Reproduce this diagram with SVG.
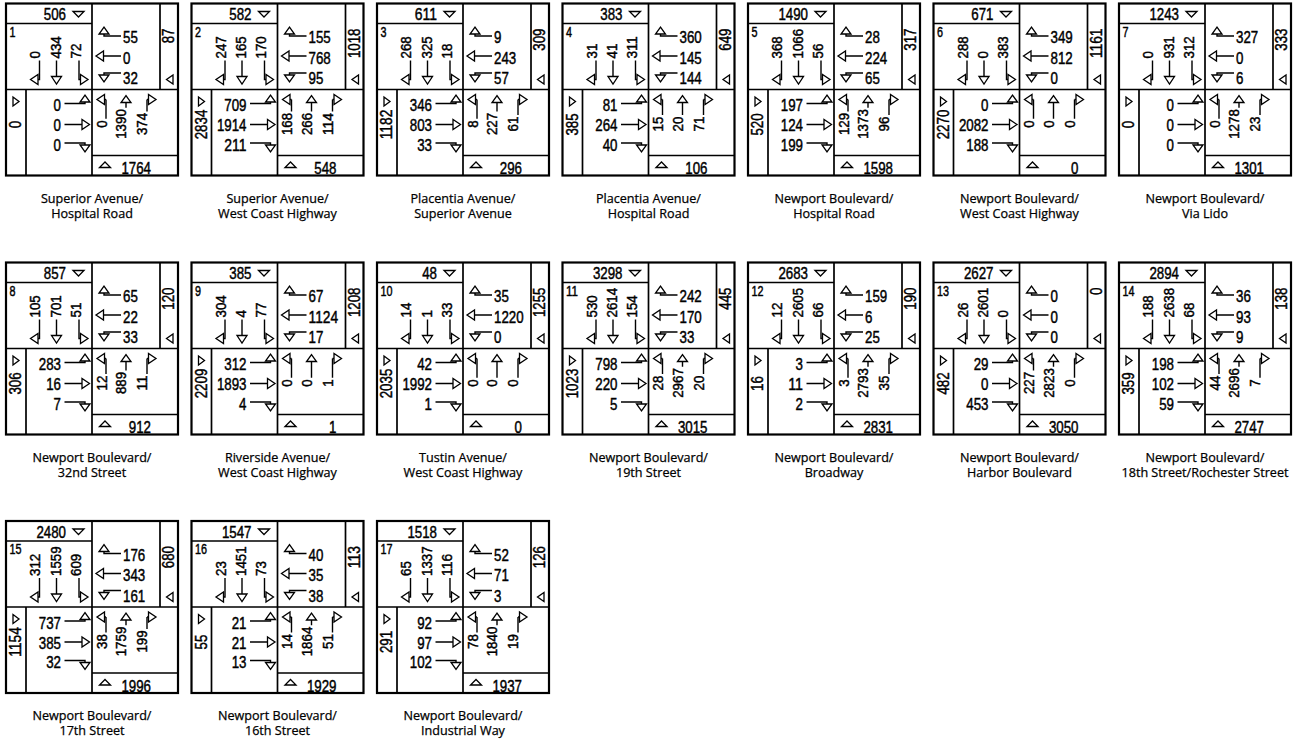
<svg xmlns="http://www.w3.org/2000/svg" width="1301" height="749" viewBox="0 0 1301 749">
<style>
.o{fill:none;stroke:#000;stroke-width:2.2}
.f{fill:none;stroke:#000;stroke-width:1.7}
.a{fill:none;stroke:#000;stroke-width:1.4}
.h polygon{fill:#fff;stroke:#000;stroke-width:1.3}
text{fill:#000;font-family:"Liberation Sans",Arial,Helvetica,sans-serif}
.n,.e,.r,.rm,.t,.tm,.id{stroke:#000;stroke-width:0.45}
.n,.e{font-size:16.5px}
.e{text-anchor:end}
.id{font-size:14px}
.r,.rm{font-size:14.5px}
.rm{text-anchor:middle}
.t,.tm{font-size:16px}
.t{text-anchor:end}
.tm{text-anchor:middle}
.lb{font-family:"Open Sans","Noto Sans",sans-serif;font-size:12.6px;text-anchor:middle;stroke:#000;stroke-width:0.25}
</style>
<defs>
<g id="fr">
<rect class="o" x="0" y="0" width="172" height="172"/>
<path class="f" d="M86 0V172M0 20H86M154 0V86M0 86H172M20 86V172M86 152H172"/>
<path class="a" d="M33.5 57V76H32M50.5 57V73M73 57V76H74.5M115 32.5H98V30.5M115 52.5H97.5M115 69.5H98V71.5M58.5 100H79V98.5M58.5 121H76M58.5 139.5H79V141.5M98.5 96H100M141 96H142.5"/>
<g class="h">
<polygon points="67,8 78,8 72.5,13.5"/>
<polygon points="167,71.5 167,80.5 160.5,76"/>
<polygon points="7,93.5 7,102.5 13,98"/>
<polygon points="93.5,164 104.5,164 99,158.5"/>
<polygon points="32,71 32,81 24.5,76"/>
<polygon points="45.5,73 55.5,73 50.5,80.5"/>
<polygon points="74.5,71 74.5,81 82,76"/>
<polygon points="93,30.5 103,30.5 98,23.5"/>
<polygon points="97.5,47.5 97.5,57.5 90,52.5"/>
<polygon points="93,71.5 103,71.5 98,78.5"/>
<polygon points="74,98.5 84,98.5 79,91.5"/>
<polygon points="76,116 76,126 83.5,121"/>
<polygon points="74,141.5 84,141.5 79,148.5"/>
<polygon points="98.5,91 98.5,101 91,96"/>
<polygon points="115,99 125,99 120,92"/>
<polygon points="142.5,91 142.5,101 150,96"/>
</g>
</g>
</defs>

<g id="int-1" transform="translate(6 3.5)">
<use href="#fr"/>
<path class="a" d="M100 96V115.3M120 99V104.2M141 96V107.9"/>
<text class="id" x="3.5" y="33" textLength="6" lengthAdjust="spacingAndGlyphs">1</text>
<text class="e" x="60" y="16.5" textLength="22.2" lengthAdjust="spacingAndGlyphs">506</text>
<text class="e" x="145" y="170.5" textLength="29.6" lengthAdjust="spacingAndGlyphs">1764</text>
<text class="t" transform="translate(168 25)rotate(-90)" textLength="14.8" lengthAdjust="spacingAndGlyphs">87</text>
<text class="tm" transform="translate(15 121)rotate(-90)" textLength="7.4" lengthAdjust="spacingAndGlyphs">0</text>
<text class="r" transform="translate(34 55)rotate(-90)" textLength="7.4" lengthAdjust="spacingAndGlyphs">0</text>
<text class="r" transform="translate(54.5 55)rotate(-90)" textLength="22.2" lengthAdjust="spacingAndGlyphs">434</text>
<text class="r" transform="translate(74.5 55)rotate(-90)" textLength="14.8" lengthAdjust="spacingAndGlyphs">72</text>
<text class="n" x="117" y="39.5" textLength="14.8" lengthAdjust="spacingAndGlyphs">55</text>
<text class="n" x="117" y="60" textLength="7.4" lengthAdjust="spacingAndGlyphs">0</text>
<text class="n" x="117" y="80.5" textLength="14.8" lengthAdjust="spacingAndGlyphs">32</text>
<text class="e" x="55" y="107.5" textLength="7.4" lengthAdjust="spacingAndGlyphs">0</text>
<text class="e" x="55" y="127.5" textLength="7.4" lengthAdjust="spacingAndGlyphs">0</text>
<text class="e" x="55" y="147" textLength="7.4" lengthAdjust="spacingAndGlyphs">0</text>
<text class="rm" transform="translate(100.5 120.5)rotate(-90)" textLength="7.4" lengthAdjust="spacingAndGlyphs">0</text>
<text class="rm" transform="translate(120 120.5)rotate(-90)" textLength="29.6" lengthAdjust="spacingAndGlyphs">1390</text>
<text class="rm" transform="translate(141 120.5)rotate(-90)" textLength="22.2" lengthAdjust="spacingAndGlyphs">374</text>
<text class="lb" x="86" y="199">Superior Avenue/</text>
<text class="lb" x="86" y="214">Hospital Road</text>
</g>

<g id="int-2" transform="translate(191.5 3.5)">
<use href="#fr"/>
<path class="a" d="M100 96V107.9M120 99V107.9M141 96V107.9"/>
<text class="id" x="3.5" y="33" textLength="6" lengthAdjust="spacingAndGlyphs">2</text>
<text class="e" x="60" y="16.5" textLength="22.2" lengthAdjust="spacingAndGlyphs">582</text>
<text class="e" x="145" y="170.5" textLength="22.2" lengthAdjust="spacingAndGlyphs">548</text>
<text class="t" transform="translate(168 25)rotate(-90)" textLength="29.6" lengthAdjust="spacingAndGlyphs">1018</text>
<text class="tm" transform="translate(15 121)rotate(-90)" textLength="29.6" lengthAdjust="spacingAndGlyphs">2834</text>
<text class="r" transform="translate(34 55)rotate(-90)" textLength="22.2" lengthAdjust="spacingAndGlyphs">247</text>
<text class="r" transform="translate(54.5 55)rotate(-90)" textLength="22.2" lengthAdjust="spacingAndGlyphs">165</text>
<text class="r" transform="translate(74.5 55)rotate(-90)" textLength="22.2" lengthAdjust="spacingAndGlyphs">170</text>
<text class="n" x="117" y="39.5" textLength="22.2" lengthAdjust="spacingAndGlyphs">155</text>
<text class="n" x="117" y="60" textLength="22.2" lengthAdjust="spacingAndGlyphs">768</text>
<text class="n" x="117" y="80.5" textLength="14.8" lengthAdjust="spacingAndGlyphs">95</text>
<text class="e" x="55" y="107.5" textLength="22.2" lengthAdjust="spacingAndGlyphs">709</text>
<text class="e" x="55" y="127.5" textLength="29.6" lengthAdjust="spacingAndGlyphs">1914</text>
<text class="e" x="55" y="147" textLength="22.2" lengthAdjust="spacingAndGlyphs">211</text>
<text class="rm" transform="translate(100.5 120.5)rotate(-90)" textLength="22.2" lengthAdjust="spacingAndGlyphs">168</text>
<text class="rm" transform="translate(120 120.5)rotate(-90)" textLength="22.2" lengthAdjust="spacingAndGlyphs">266</text>
<text class="rm" transform="translate(141 120.5)rotate(-90)" textLength="22.2" lengthAdjust="spacingAndGlyphs">114</text>
<text class="lb" x="86" y="199">Superior Avenue/</text>
<text class="lb" x="86" y="214">West Coast Highway</text>
</g>

<g id="int-3" transform="translate(377 3.5)">
<use href="#fr"/>
<path class="a" d="M100 96V115.3M120 99V107.9M141 96V111.6"/>
<text class="id" x="3.5" y="33" textLength="6" lengthAdjust="spacingAndGlyphs">3</text>
<text class="e" x="60" y="16.5" textLength="22.2" lengthAdjust="spacingAndGlyphs">611</text>
<text class="e" x="145" y="170.5" textLength="22.2" lengthAdjust="spacingAndGlyphs">296</text>
<text class="t" transform="translate(168 25)rotate(-90)" textLength="22.2" lengthAdjust="spacingAndGlyphs">309</text>
<text class="tm" transform="translate(15 121)rotate(-90)" textLength="29.6" lengthAdjust="spacingAndGlyphs">1182</text>
<text class="r" transform="translate(34 55)rotate(-90)" textLength="22.2" lengthAdjust="spacingAndGlyphs">268</text>
<text class="r" transform="translate(54.5 55)rotate(-90)" textLength="22.2" lengthAdjust="spacingAndGlyphs">325</text>
<text class="r" transform="translate(74.5 55)rotate(-90)" textLength="14.8" lengthAdjust="spacingAndGlyphs">18</text>
<text class="n" x="117" y="39.5" textLength="7.4" lengthAdjust="spacingAndGlyphs">9</text>
<text class="n" x="117" y="60" textLength="22.2" lengthAdjust="spacingAndGlyphs">243</text>
<text class="n" x="117" y="80.5" textLength="14.8" lengthAdjust="spacingAndGlyphs">57</text>
<text class="e" x="55" y="107.5" textLength="22.2" lengthAdjust="spacingAndGlyphs">346</text>
<text class="e" x="55" y="127.5" textLength="22.2" lengthAdjust="spacingAndGlyphs">803</text>
<text class="e" x="55" y="147" textLength="14.8" lengthAdjust="spacingAndGlyphs">33</text>
<text class="rm" transform="translate(100.5 120.5)rotate(-90)" textLength="7.4" lengthAdjust="spacingAndGlyphs">8</text>
<text class="rm" transform="translate(120 120.5)rotate(-90)" textLength="22.2" lengthAdjust="spacingAndGlyphs">227</text>
<text class="rm" transform="translate(141 120.5)rotate(-90)" textLength="14.8" lengthAdjust="spacingAndGlyphs">61</text>
<text class="lb" x="86" y="199">Placentia Avenue/</text>
<text class="lb" x="86" y="214">Superior Avenue</text>
</g>

<g id="int-4" transform="translate(562.5 3.5)">
<use href="#fr"/>
<path class="a" d="M100 96V111.6M120 99V111.6M141 96V111.6"/>
<text class="id" x="3.5" y="33" textLength="6" lengthAdjust="spacingAndGlyphs">4</text>
<text class="e" x="60" y="16.5" textLength="22.2" lengthAdjust="spacingAndGlyphs">383</text>
<text class="e" x="145" y="170.5" textLength="22.2" lengthAdjust="spacingAndGlyphs">106</text>
<text class="t" transform="translate(168 25)rotate(-90)" textLength="22.2" lengthAdjust="spacingAndGlyphs">649</text>
<text class="tm" transform="translate(15 121)rotate(-90)" textLength="22.2" lengthAdjust="spacingAndGlyphs">385</text>
<text class="r" transform="translate(34 55)rotate(-90)" textLength="14.8" lengthAdjust="spacingAndGlyphs">31</text>
<text class="r" transform="translate(54.5 55)rotate(-90)" textLength="14.8" lengthAdjust="spacingAndGlyphs">41</text>
<text class="r" transform="translate(74.5 55)rotate(-90)" textLength="22.2" lengthAdjust="spacingAndGlyphs">311</text>
<text class="n" x="117" y="39.5" textLength="22.2" lengthAdjust="spacingAndGlyphs">360</text>
<text class="n" x="117" y="60" textLength="22.2" lengthAdjust="spacingAndGlyphs">145</text>
<text class="n" x="117" y="80.5" textLength="22.2" lengthAdjust="spacingAndGlyphs">144</text>
<text class="e" x="55" y="107.5" textLength="14.8" lengthAdjust="spacingAndGlyphs">81</text>
<text class="e" x="55" y="127.5" textLength="22.2" lengthAdjust="spacingAndGlyphs">264</text>
<text class="e" x="55" y="147" textLength="14.8" lengthAdjust="spacingAndGlyphs">40</text>
<text class="rm" transform="translate(100.5 120.5)rotate(-90)" textLength="14.8" lengthAdjust="spacingAndGlyphs">15</text>
<text class="rm" transform="translate(120 120.5)rotate(-90)" textLength="14.8" lengthAdjust="spacingAndGlyphs">20</text>
<text class="rm" transform="translate(141 120.5)rotate(-90)" textLength="14.8" lengthAdjust="spacingAndGlyphs">71</text>
<text class="lb" x="86" y="199">Placentia Avenue/</text>
<text class="lb" x="86" y="214">Hospital Road</text>
</g>

<g id="int-5" transform="translate(748 3.5)">
<use href="#fr"/>
<path class="a" d="M100 96V107.9M120 99V104.2M141 96V111.6"/>
<text class="id" x="3.5" y="33" textLength="6" lengthAdjust="spacingAndGlyphs">5</text>
<text class="e" x="60" y="16.5" textLength="29.6" lengthAdjust="spacingAndGlyphs">1490</text>
<text class="e" x="145" y="170.5" textLength="29.6" lengthAdjust="spacingAndGlyphs">1598</text>
<text class="t" transform="translate(168 25)rotate(-90)" textLength="22.2" lengthAdjust="spacingAndGlyphs">317</text>
<text class="tm" transform="translate(15 121)rotate(-90)" textLength="22.2" lengthAdjust="spacingAndGlyphs">520</text>
<text class="r" transform="translate(34 55)rotate(-90)" textLength="22.2" lengthAdjust="spacingAndGlyphs">368</text>
<text class="r" transform="translate(54.5 55)rotate(-90)" textLength="29.6" lengthAdjust="spacingAndGlyphs">1066</text>
<text class="r" transform="translate(74.5 55)rotate(-90)" textLength="14.8" lengthAdjust="spacingAndGlyphs">56</text>
<text class="n" x="117" y="39.5" textLength="14.8" lengthAdjust="spacingAndGlyphs">28</text>
<text class="n" x="117" y="60" textLength="22.2" lengthAdjust="spacingAndGlyphs">224</text>
<text class="n" x="117" y="80.5" textLength="14.8" lengthAdjust="spacingAndGlyphs">65</text>
<text class="e" x="55" y="107.5" textLength="22.2" lengthAdjust="spacingAndGlyphs">197</text>
<text class="e" x="55" y="127.5" textLength="22.2" lengthAdjust="spacingAndGlyphs">124</text>
<text class="e" x="55" y="147" textLength="22.2" lengthAdjust="spacingAndGlyphs">199</text>
<text class="rm" transform="translate(100.5 120.5)rotate(-90)" textLength="22.2" lengthAdjust="spacingAndGlyphs">129</text>
<text class="rm" transform="translate(120 120.5)rotate(-90)" textLength="29.6" lengthAdjust="spacingAndGlyphs">1373</text>
<text class="rm" transform="translate(141 120.5)rotate(-90)" textLength="14.8" lengthAdjust="spacingAndGlyphs">96</text>
<text class="lb" x="86" y="199">Newport Boulevard/</text>
<text class="lb" x="86" y="214">Hospital Road</text>
</g>

<g id="int-6" transform="translate(933.5 3.5)">
<use href="#fr"/>
<path class="a" d="M100 96V115.3M120 99V115.3M141 96V115.3"/>
<text class="id" x="3.5" y="33" textLength="6" lengthAdjust="spacingAndGlyphs">6</text>
<text class="e" x="60" y="16.5" textLength="22.2" lengthAdjust="spacingAndGlyphs">671</text>
<text class="e" x="145" y="170.5" textLength="7.4" lengthAdjust="spacingAndGlyphs">0</text>
<text class="t" transform="translate(168 25)rotate(-90)" textLength="29.6" lengthAdjust="spacingAndGlyphs">1161</text>
<text class="tm" transform="translate(15 121)rotate(-90)" textLength="29.6" lengthAdjust="spacingAndGlyphs">2270</text>
<text class="r" transform="translate(34 55)rotate(-90)" textLength="22.2" lengthAdjust="spacingAndGlyphs">288</text>
<text class="r" transform="translate(54.5 55)rotate(-90)" textLength="7.4" lengthAdjust="spacingAndGlyphs">0</text>
<text class="r" transform="translate(74.5 55)rotate(-90)" textLength="22.2" lengthAdjust="spacingAndGlyphs">383</text>
<text class="n" x="117" y="39.5" textLength="22.2" lengthAdjust="spacingAndGlyphs">349</text>
<text class="n" x="117" y="60" textLength="22.2" lengthAdjust="spacingAndGlyphs">812</text>
<text class="n" x="117" y="80.5" textLength="7.4" lengthAdjust="spacingAndGlyphs">0</text>
<text class="e" x="55" y="107.5" textLength="7.4" lengthAdjust="spacingAndGlyphs">0</text>
<text class="e" x="55" y="127.5" textLength="29.6" lengthAdjust="spacingAndGlyphs">2082</text>
<text class="e" x="55" y="147" textLength="22.2" lengthAdjust="spacingAndGlyphs">188</text>
<text class="rm" transform="translate(100.5 120.5)rotate(-90)" textLength="7.4" lengthAdjust="spacingAndGlyphs">0</text>
<text class="rm" transform="translate(120 120.5)rotate(-90)" textLength="7.4" lengthAdjust="spacingAndGlyphs">0</text>
<text class="rm" transform="translate(141 120.5)rotate(-90)" textLength="7.4" lengthAdjust="spacingAndGlyphs">0</text>
<text class="lb" x="86" y="199">Newport Boulevard/</text>
<text class="lb" x="86" y="214">West Coast Highway</text>
</g>

<g id="int-7" transform="translate(1119 3.5)">
<use href="#fr"/>
<path class="a" d="M100 96V115.3M120 99V104.2M141 96V111.6"/>
<text class="id" x="3.5" y="33" textLength="6" lengthAdjust="spacingAndGlyphs">7</text>
<text class="e" x="60" y="16.5" textLength="29.6" lengthAdjust="spacingAndGlyphs">1243</text>
<text class="e" x="145" y="170.5" textLength="29.6" lengthAdjust="spacingAndGlyphs">1301</text>
<text class="t" transform="translate(168 25)rotate(-90)" textLength="22.2" lengthAdjust="spacingAndGlyphs">333</text>
<text class="tm" transform="translate(15 121)rotate(-90)" textLength="7.4" lengthAdjust="spacingAndGlyphs">0</text>
<text class="r" transform="translate(34 55)rotate(-90)" textLength="7.4" lengthAdjust="spacingAndGlyphs">0</text>
<text class="r" transform="translate(54.5 55)rotate(-90)" textLength="22.2" lengthAdjust="spacingAndGlyphs">931</text>
<text class="r" transform="translate(74.5 55)rotate(-90)" textLength="22.2" lengthAdjust="spacingAndGlyphs">312</text>
<text class="n" x="117" y="39.5" textLength="22.2" lengthAdjust="spacingAndGlyphs">327</text>
<text class="n" x="117" y="60" textLength="7.4" lengthAdjust="spacingAndGlyphs">0</text>
<text class="n" x="117" y="80.5" textLength="7.4" lengthAdjust="spacingAndGlyphs">6</text>
<text class="e" x="55" y="107.5" textLength="7.4" lengthAdjust="spacingAndGlyphs">0</text>
<text class="e" x="55" y="127.5" textLength="7.4" lengthAdjust="spacingAndGlyphs">0</text>
<text class="e" x="55" y="147" textLength="7.4" lengthAdjust="spacingAndGlyphs">0</text>
<text class="rm" transform="translate(100.5 120.5)rotate(-90)" textLength="7.4" lengthAdjust="spacingAndGlyphs">0</text>
<text class="rm" transform="translate(120 120.5)rotate(-90)" textLength="29.6" lengthAdjust="spacingAndGlyphs">1278</text>
<text class="rm" transform="translate(141 120.5)rotate(-90)" textLength="14.8" lengthAdjust="spacingAndGlyphs">23</text>
<text class="lb" x="86" y="199">Newport Boulevard/</text>
<text class="lb" x="86" y="214">Via Lido</text>
</g>

<g id="int-8" transform="translate(6 262.5)">
<use href="#fr"/>
<path class="a" d="M100 96V111.6M120 99V107.9M141 96V111.6"/>
<text class="id" x="3.5" y="33" textLength="6" lengthAdjust="spacingAndGlyphs">8</text>
<text class="e" x="60" y="16.5" textLength="22.2" lengthAdjust="spacingAndGlyphs">857</text>
<text class="e" x="145" y="170.5" textLength="22.2" lengthAdjust="spacingAndGlyphs">912</text>
<text class="t" transform="translate(168 25)rotate(-90)" textLength="22.2" lengthAdjust="spacingAndGlyphs">120</text>
<text class="tm" transform="translate(15 121)rotate(-90)" textLength="22.2" lengthAdjust="spacingAndGlyphs">306</text>
<text class="r" transform="translate(34 55)rotate(-90)" textLength="22.2" lengthAdjust="spacingAndGlyphs">105</text>
<text class="r" transform="translate(54.5 55)rotate(-90)" textLength="22.2" lengthAdjust="spacingAndGlyphs">701</text>
<text class="r" transform="translate(74.5 55)rotate(-90)" textLength="14.8" lengthAdjust="spacingAndGlyphs">51</text>
<text class="n" x="117" y="39.5" textLength="14.8" lengthAdjust="spacingAndGlyphs">65</text>
<text class="n" x="117" y="60" textLength="14.8" lengthAdjust="spacingAndGlyphs">22</text>
<text class="n" x="117" y="80.5" textLength="14.8" lengthAdjust="spacingAndGlyphs">33</text>
<text class="e" x="55" y="107.5" textLength="22.2" lengthAdjust="spacingAndGlyphs">283</text>
<text class="e" x="55" y="127.5" textLength="14.8" lengthAdjust="spacingAndGlyphs">16</text>
<text class="e" x="55" y="147" textLength="7.4" lengthAdjust="spacingAndGlyphs">7</text>
<text class="rm" transform="translate(100.5 120.5)rotate(-90)" textLength="14.8" lengthAdjust="spacingAndGlyphs">12</text>
<text class="rm" transform="translate(120 120.5)rotate(-90)" textLength="22.2" lengthAdjust="spacingAndGlyphs">889</text>
<text class="rm" transform="translate(141 120.5)rotate(-90)" textLength="14.8" lengthAdjust="spacingAndGlyphs">11</text>
<text class="lb" x="86" y="199">Newport Boulevard/</text>
<text class="lb" x="86" y="214">32nd Street</text>
</g>

<g id="int-9" transform="translate(191.5 262.5)">
<use href="#fr"/>
<path class="a" d="M100 96V115.3M120 99V115.3M141 96V115.3"/>
<text class="id" x="3.5" y="33" textLength="6" lengthAdjust="spacingAndGlyphs">9</text>
<text class="e" x="60" y="16.5" textLength="22.2" lengthAdjust="spacingAndGlyphs">385</text>
<text class="e" x="145" y="170.5" textLength="7.4" lengthAdjust="spacingAndGlyphs">1</text>
<text class="t" transform="translate(168 25)rotate(-90)" textLength="29.6" lengthAdjust="spacingAndGlyphs">1208</text>
<text class="tm" transform="translate(15 121)rotate(-90)" textLength="29.6" lengthAdjust="spacingAndGlyphs">2209</text>
<text class="r" transform="translate(34 55)rotate(-90)" textLength="22.2" lengthAdjust="spacingAndGlyphs">304</text>
<text class="r" transform="translate(54.5 55)rotate(-90)" textLength="7.4" lengthAdjust="spacingAndGlyphs">4</text>
<text class="r" transform="translate(74.5 55)rotate(-90)" textLength="14.8" lengthAdjust="spacingAndGlyphs">77</text>
<text class="n" x="117" y="39.5" textLength="14.8" lengthAdjust="spacingAndGlyphs">67</text>
<text class="n" x="117" y="60" textLength="29.6" lengthAdjust="spacingAndGlyphs">1124</text>
<text class="n" x="117" y="80.5" textLength="14.8" lengthAdjust="spacingAndGlyphs">17</text>
<text class="e" x="55" y="107.5" textLength="22.2" lengthAdjust="spacingAndGlyphs">312</text>
<text class="e" x="55" y="127.5" textLength="29.6" lengthAdjust="spacingAndGlyphs">1893</text>
<text class="e" x="55" y="147" textLength="7.4" lengthAdjust="spacingAndGlyphs">4</text>
<text class="rm" transform="translate(100.5 120.5)rotate(-90)" textLength="7.4" lengthAdjust="spacingAndGlyphs">0</text>
<text class="rm" transform="translate(120 120.5)rotate(-90)" textLength="7.4" lengthAdjust="spacingAndGlyphs">0</text>
<text class="rm" transform="translate(141 120.5)rotate(-90)" textLength="7.4" lengthAdjust="spacingAndGlyphs">1</text>
<text class="lb" x="86" y="199">Riverside Avenue/</text>
<text class="lb" x="86" y="214">West Coast Highway</text>
</g>

<g id="int-10" transform="translate(377 262.5)">
<use href="#fr"/>
<path class="a" d="M100 96V115.3M120 99V115.3M141 96V115.3"/>
<text class="id" x="3.5" y="33" textLength="12" lengthAdjust="spacingAndGlyphs">10</text>
<text class="e" x="60" y="16.5" textLength="14.8" lengthAdjust="spacingAndGlyphs">48</text>
<text class="e" x="145" y="170.5" textLength="7.4" lengthAdjust="spacingAndGlyphs">0</text>
<text class="t" transform="translate(168 25)rotate(-90)" textLength="29.6" lengthAdjust="spacingAndGlyphs">1255</text>
<text class="tm" transform="translate(15 121)rotate(-90)" textLength="29.6" lengthAdjust="spacingAndGlyphs">2035</text>
<text class="r" transform="translate(34 55)rotate(-90)" textLength="14.8" lengthAdjust="spacingAndGlyphs">14</text>
<text class="r" transform="translate(54.5 55)rotate(-90)" textLength="7.4" lengthAdjust="spacingAndGlyphs">1</text>
<text class="r" transform="translate(74.5 55)rotate(-90)" textLength="14.8" lengthAdjust="spacingAndGlyphs">33</text>
<text class="n" x="117" y="39.5" textLength="14.8" lengthAdjust="spacingAndGlyphs">35</text>
<text class="n" x="117" y="60" textLength="29.6" lengthAdjust="spacingAndGlyphs">1220</text>
<text class="n" x="117" y="80.5" textLength="7.4" lengthAdjust="spacingAndGlyphs">0</text>
<text class="e" x="55" y="107.5" textLength="14.8" lengthAdjust="spacingAndGlyphs">42</text>
<text class="e" x="55" y="127.5" textLength="29.6" lengthAdjust="spacingAndGlyphs">1992</text>
<text class="e" x="55" y="147" textLength="7.4" lengthAdjust="spacingAndGlyphs">1</text>
<text class="rm" transform="translate(100.5 120.5)rotate(-90)" textLength="7.4" lengthAdjust="spacingAndGlyphs">0</text>
<text class="rm" transform="translate(120 120.5)rotate(-90)" textLength="7.4" lengthAdjust="spacingAndGlyphs">0</text>
<text class="rm" transform="translate(141 120.5)rotate(-90)" textLength="7.4" lengthAdjust="spacingAndGlyphs">0</text>
<text class="lb" x="86" y="199">Tustin Avenue/</text>
<text class="lb" x="86" y="214">West Coast Highway</text>
</g>

<g id="int-11" transform="translate(562.5 262.5)">
<use href="#fr"/>
<path class="a" d="M100 96V111.6M120 99V104.2M141 96V111.6"/>
<text class="id" x="3.5" y="33" textLength="12" lengthAdjust="spacingAndGlyphs">11</text>
<text class="e" x="60" y="16.5" textLength="29.6" lengthAdjust="spacingAndGlyphs">3298</text>
<text class="e" x="145" y="170.5" textLength="29.6" lengthAdjust="spacingAndGlyphs">3015</text>
<text class="t" transform="translate(168 25)rotate(-90)" textLength="22.2" lengthAdjust="spacingAndGlyphs">445</text>
<text class="tm" transform="translate(15 121)rotate(-90)" textLength="29.6" lengthAdjust="spacingAndGlyphs">1023</text>
<text class="r" transform="translate(34 55)rotate(-90)" textLength="22.2" lengthAdjust="spacingAndGlyphs">530</text>
<text class="r" transform="translate(54.5 55)rotate(-90)" textLength="29.6" lengthAdjust="spacingAndGlyphs">2614</text>
<text class="r" transform="translate(74.5 55)rotate(-90)" textLength="22.2" lengthAdjust="spacingAndGlyphs">154</text>
<text class="n" x="117" y="39.5" textLength="22.2" lengthAdjust="spacingAndGlyphs">242</text>
<text class="n" x="117" y="60" textLength="22.2" lengthAdjust="spacingAndGlyphs">170</text>
<text class="n" x="117" y="80.5" textLength="14.8" lengthAdjust="spacingAndGlyphs">33</text>
<text class="e" x="55" y="107.5" textLength="22.2" lengthAdjust="spacingAndGlyphs">798</text>
<text class="e" x="55" y="127.5" textLength="22.2" lengthAdjust="spacingAndGlyphs">220</text>
<text class="e" x="55" y="147" textLength="7.4" lengthAdjust="spacingAndGlyphs">5</text>
<text class="rm" transform="translate(100.5 120.5)rotate(-90)" textLength="14.8" lengthAdjust="spacingAndGlyphs">28</text>
<text class="rm" transform="translate(120 120.5)rotate(-90)" textLength="29.6" lengthAdjust="spacingAndGlyphs">2967</text>
<text class="rm" transform="translate(141 120.5)rotate(-90)" textLength="14.8" lengthAdjust="spacingAndGlyphs">20</text>
<text class="lb" x="86" y="199">Newport Boulevard/</text>
<text class="lb" x="86" y="214">19th Street</text>
</g>

<g id="int-12" transform="translate(748 262.5)">
<use href="#fr"/>
<path class="a" d="M100 96V115.3M120 99V104.2M141 96V111.6"/>
<text class="id" x="3.5" y="33" textLength="12" lengthAdjust="spacingAndGlyphs">12</text>
<text class="e" x="60" y="16.5" textLength="29.6" lengthAdjust="spacingAndGlyphs">2683</text>
<text class="e" x="145" y="170.5" textLength="29.6" lengthAdjust="spacingAndGlyphs">2831</text>
<text class="t" transform="translate(168 25)rotate(-90)" textLength="22.2" lengthAdjust="spacingAndGlyphs">190</text>
<text class="tm" transform="translate(15 121)rotate(-90)" textLength="14.8" lengthAdjust="spacingAndGlyphs">16</text>
<text class="r" transform="translate(34 55)rotate(-90)" textLength="14.8" lengthAdjust="spacingAndGlyphs">12</text>
<text class="r" transform="translate(54.5 55)rotate(-90)" textLength="29.6" lengthAdjust="spacingAndGlyphs">2605</text>
<text class="r" transform="translate(74.5 55)rotate(-90)" textLength="14.8" lengthAdjust="spacingAndGlyphs">66</text>
<text class="n" x="117" y="39.5" textLength="22.2" lengthAdjust="spacingAndGlyphs">159</text>
<text class="n" x="117" y="60" textLength="7.4" lengthAdjust="spacingAndGlyphs">6</text>
<text class="n" x="117" y="80.5" textLength="14.8" lengthAdjust="spacingAndGlyphs">25</text>
<text class="e" x="55" y="107.5" textLength="7.4" lengthAdjust="spacingAndGlyphs">3</text>
<text class="e" x="55" y="127.5" textLength="14.8" lengthAdjust="spacingAndGlyphs">11</text>
<text class="e" x="55" y="147" textLength="7.4" lengthAdjust="spacingAndGlyphs">2</text>
<text class="rm" transform="translate(100.5 120.5)rotate(-90)" textLength="7.4" lengthAdjust="spacingAndGlyphs">3</text>
<text class="rm" transform="translate(120 120.5)rotate(-90)" textLength="29.6" lengthAdjust="spacingAndGlyphs">2793</text>
<text class="rm" transform="translate(141 120.5)rotate(-90)" textLength="14.8" lengthAdjust="spacingAndGlyphs">35</text>
<text class="lb" x="86" y="199">Newport Boulevard/</text>
<text class="lb" x="86" y="214">Broadway</text>
</g>

<g id="int-13" transform="translate(933.5 262.5)">
<use href="#fr"/>
<path class="a" d="M100 96V107.9M120 99V104.2M141 96V115.3"/>
<text class="id" x="3.5" y="33" textLength="12" lengthAdjust="spacingAndGlyphs">13</text>
<text class="e" x="60" y="16.5" textLength="29.6" lengthAdjust="spacingAndGlyphs">2627</text>
<text class="e" x="145" y="170.5" textLength="29.6" lengthAdjust="spacingAndGlyphs">3050</text>
<text class="t" transform="translate(168 25)rotate(-90)" textLength="7.4" lengthAdjust="spacingAndGlyphs">0</text>
<text class="tm" transform="translate(15 121)rotate(-90)" textLength="22.2" lengthAdjust="spacingAndGlyphs">482</text>
<text class="r" transform="translate(34 55)rotate(-90)" textLength="14.8" lengthAdjust="spacingAndGlyphs">26</text>
<text class="r" transform="translate(54.5 55)rotate(-90)" textLength="29.6" lengthAdjust="spacingAndGlyphs">2601</text>
<text class="r" transform="translate(74.5 55)rotate(-90)" textLength="7.4" lengthAdjust="spacingAndGlyphs">0</text>
<text class="n" x="117" y="39.5" textLength="7.4" lengthAdjust="spacingAndGlyphs">0</text>
<text class="n" x="117" y="60" textLength="7.4" lengthAdjust="spacingAndGlyphs">0</text>
<text class="n" x="117" y="80.5" textLength="7.4" lengthAdjust="spacingAndGlyphs">0</text>
<text class="e" x="55" y="107.5" textLength="14.8" lengthAdjust="spacingAndGlyphs">29</text>
<text class="e" x="55" y="127.5" textLength="7.4" lengthAdjust="spacingAndGlyphs">0</text>
<text class="e" x="55" y="147" textLength="22.2" lengthAdjust="spacingAndGlyphs">453</text>
<text class="rm" transform="translate(100.5 120.5)rotate(-90)" textLength="22.2" lengthAdjust="spacingAndGlyphs">227</text>
<text class="rm" transform="translate(120 120.5)rotate(-90)" textLength="29.6" lengthAdjust="spacingAndGlyphs">2823</text>
<text class="rm" transform="translate(141 120.5)rotate(-90)" textLength="7.4" lengthAdjust="spacingAndGlyphs">0</text>
<text class="lb" x="86" y="199">Newport Boulevard/</text>
<text class="lb" x="86" y="214">Harbor Boulevard</text>
</g>

<g id="int-14" transform="translate(1119 262.5)">
<use href="#fr"/>
<path class="a" d="M100 96V111.6M120 99V104.2M141 96V115.3"/>
<text class="id" x="3.5" y="33" textLength="12" lengthAdjust="spacingAndGlyphs">14</text>
<text class="e" x="60" y="16.5" textLength="29.6" lengthAdjust="spacingAndGlyphs">2894</text>
<text class="e" x="145" y="170.5" textLength="29.6" lengthAdjust="spacingAndGlyphs">2747</text>
<text class="t" transform="translate(168 25)rotate(-90)" textLength="22.2" lengthAdjust="spacingAndGlyphs">138</text>
<text class="tm" transform="translate(15 121)rotate(-90)" textLength="22.2" lengthAdjust="spacingAndGlyphs">359</text>
<text class="r" transform="translate(34 55)rotate(-90)" textLength="22.2" lengthAdjust="spacingAndGlyphs">188</text>
<text class="r" transform="translate(54.5 55)rotate(-90)" textLength="29.6" lengthAdjust="spacingAndGlyphs">2638</text>
<text class="r" transform="translate(74.5 55)rotate(-90)" textLength="14.8" lengthAdjust="spacingAndGlyphs">68</text>
<text class="n" x="117" y="39.5" textLength="14.8" lengthAdjust="spacingAndGlyphs">36</text>
<text class="n" x="117" y="60" textLength="14.8" lengthAdjust="spacingAndGlyphs">93</text>
<text class="n" x="117" y="80.5" textLength="7.4" lengthAdjust="spacingAndGlyphs">9</text>
<text class="e" x="55" y="107.5" textLength="22.2" lengthAdjust="spacingAndGlyphs">198</text>
<text class="e" x="55" y="127.5" textLength="22.2" lengthAdjust="spacingAndGlyphs">102</text>
<text class="e" x="55" y="147" textLength="14.8" lengthAdjust="spacingAndGlyphs">59</text>
<text class="rm" transform="translate(100.5 120.5)rotate(-90)" textLength="14.8" lengthAdjust="spacingAndGlyphs">44</text>
<text class="rm" transform="translate(120 120.5)rotate(-90)" textLength="29.6" lengthAdjust="spacingAndGlyphs">2696</text>
<text class="rm" transform="translate(141 120.5)rotate(-90)" textLength="7.4" lengthAdjust="spacingAndGlyphs">7</text>
<text class="lb" x="86" y="199">Newport Boulevard/</text>
<text class="lb" x="86" y="214">18th Street/Rochester Street</text>
</g>

<g id="int-15" transform="translate(6 521)">
<use href="#fr"/>
<path class="a" d="M100 96V111.6M120 99V104.2M141 96V107.9"/>
<text class="id" x="3.5" y="33" textLength="12" lengthAdjust="spacingAndGlyphs">15</text>
<text class="e" x="60" y="16.5" textLength="29.6" lengthAdjust="spacingAndGlyphs">2480</text>
<text class="e" x="145" y="170.5" textLength="29.6" lengthAdjust="spacingAndGlyphs">1996</text>
<text class="t" transform="translate(168 25)rotate(-90)" textLength="22.2" lengthAdjust="spacingAndGlyphs">680</text>
<text class="tm" transform="translate(15 121)rotate(-90)" textLength="29.6" lengthAdjust="spacingAndGlyphs">1154</text>
<text class="r" transform="translate(34 55)rotate(-90)" textLength="22.2" lengthAdjust="spacingAndGlyphs">312</text>
<text class="r" transform="translate(54.5 55)rotate(-90)" textLength="29.6" lengthAdjust="spacingAndGlyphs">1559</text>
<text class="r" transform="translate(74.5 55)rotate(-90)" textLength="22.2" lengthAdjust="spacingAndGlyphs">609</text>
<text class="n" x="117" y="39.5" textLength="22.2" lengthAdjust="spacingAndGlyphs">176</text>
<text class="n" x="117" y="60" textLength="22.2" lengthAdjust="spacingAndGlyphs">343</text>
<text class="n" x="117" y="80.5" textLength="22.2" lengthAdjust="spacingAndGlyphs">161</text>
<text class="e" x="55" y="107.5" textLength="22.2" lengthAdjust="spacingAndGlyphs">737</text>
<text class="e" x="55" y="127.5" textLength="22.2" lengthAdjust="spacingAndGlyphs">385</text>
<text class="e" x="55" y="147" textLength="14.8" lengthAdjust="spacingAndGlyphs">32</text>
<text class="rm" transform="translate(100.5 120.5)rotate(-90)" textLength="14.8" lengthAdjust="spacingAndGlyphs">38</text>
<text class="rm" transform="translate(120 120.5)rotate(-90)" textLength="29.6" lengthAdjust="spacingAndGlyphs">1759</text>
<text class="rm" transform="translate(141 120.5)rotate(-90)" textLength="22.2" lengthAdjust="spacingAndGlyphs">199</text>
<text class="lb" x="86" y="199">Newport Boulevard/</text>
<text class="lb" x="86" y="214">17th Street</text>
</g>

<g id="int-16" transform="translate(191.5 521)">
<use href="#fr"/>
<path class="a" d="M100 96V111.6M120 99V104.2M141 96V111.6"/>
<text class="id" x="3.5" y="33" textLength="12" lengthAdjust="spacingAndGlyphs">16</text>
<text class="e" x="60" y="16.5" textLength="29.6" lengthAdjust="spacingAndGlyphs">1547</text>
<text class="e" x="145" y="170.5" textLength="29.6" lengthAdjust="spacingAndGlyphs">1929</text>
<text class="t" transform="translate(168 25)rotate(-90)" textLength="22.2" lengthAdjust="spacingAndGlyphs">113</text>
<text class="tm" transform="translate(15 121)rotate(-90)" textLength="14.8" lengthAdjust="spacingAndGlyphs">55</text>
<text class="r" transform="translate(34 55)rotate(-90)" textLength="14.8" lengthAdjust="spacingAndGlyphs">23</text>
<text class="r" transform="translate(54.5 55)rotate(-90)" textLength="29.6" lengthAdjust="spacingAndGlyphs">1451</text>
<text class="r" transform="translate(74.5 55)rotate(-90)" textLength="14.8" lengthAdjust="spacingAndGlyphs">73</text>
<text class="n" x="117" y="39.5" textLength="14.8" lengthAdjust="spacingAndGlyphs">40</text>
<text class="n" x="117" y="60" textLength="14.8" lengthAdjust="spacingAndGlyphs">35</text>
<text class="n" x="117" y="80.5" textLength="14.8" lengthAdjust="spacingAndGlyphs">38</text>
<text class="e" x="55" y="107.5" textLength="14.8" lengthAdjust="spacingAndGlyphs">21</text>
<text class="e" x="55" y="127.5" textLength="14.8" lengthAdjust="spacingAndGlyphs">21</text>
<text class="e" x="55" y="147" textLength="14.8" lengthAdjust="spacingAndGlyphs">13</text>
<text class="rm" transform="translate(100.5 120.5)rotate(-90)" textLength="14.8" lengthAdjust="spacingAndGlyphs">14</text>
<text class="rm" transform="translate(120 120.5)rotate(-90)" textLength="29.6" lengthAdjust="spacingAndGlyphs">1864</text>
<text class="rm" transform="translate(141 120.5)rotate(-90)" textLength="14.8" lengthAdjust="spacingAndGlyphs">51</text>
<text class="lb" x="86" y="199">Newport Boulevard/</text>
<text class="lb" x="86" y="214">16th Street</text>
</g>

<g id="int-17" transform="translate(377 521)">
<use href="#fr"/>
<path class="a" d="M100 96V111.6M120 99V104.2M141 96V111.6"/>
<text class="id" x="3.5" y="33" textLength="12" lengthAdjust="spacingAndGlyphs">17</text>
<text class="e" x="60" y="16.5" textLength="29.6" lengthAdjust="spacingAndGlyphs">1518</text>
<text class="e" x="145" y="170.5" textLength="29.6" lengthAdjust="spacingAndGlyphs">1937</text>
<text class="t" transform="translate(168 25)rotate(-90)" textLength="22.2" lengthAdjust="spacingAndGlyphs">126</text>
<text class="tm" transform="translate(15 121)rotate(-90)" textLength="22.2" lengthAdjust="spacingAndGlyphs">291</text>
<text class="r" transform="translate(34 55)rotate(-90)" textLength="14.8" lengthAdjust="spacingAndGlyphs">65</text>
<text class="r" transform="translate(54.5 55)rotate(-90)" textLength="29.6" lengthAdjust="spacingAndGlyphs">1337</text>
<text class="r" transform="translate(74.5 55)rotate(-90)" textLength="22.2" lengthAdjust="spacingAndGlyphs">116</text>
<text class="n" x="117" y="39.5" textLength="14.8" lengthAdjust="spacingAndGlyphs">52</text>
<text class="n" x="117" y="60" textLength="14.8" lengthAdjust="spacingAndGlyphs">71</text>
<text class="n" x="117" y="80.5" textLength="7.4" lengthAdjust="spacingAndGlyphs">3</text>
<text class="e" x="55" y="107.5" textLength="14.8" lengthAdjust="spacingAndGlyphs">92</text>
<text class="e" x="55" y="127.5" textLength="14.8" lengthAdjust="spacingAndGlyphs">97</text>
<text class="e" x="55" y="147" textLength="22.2" lengthAdjust="spacingAndGlyphs">102</text>
<text class="rm" transform="translate(100.5 120.5)rotate(-90)" textLength="14.8" lengthAdjust="spacingAndGlyphs">78</text>
<text class="rm" transform="translate(120 120.5)rotate(-90)" textLength="29.6" lengthAdjust="spacingAndGlyphs">1840</text>
<text class="rm" transform="translate(141 120.5)rotate(-90)" textLength="14.8" lengthAdjust="spacingAndGlyphs">19</text>
<text class="lb" x="86" y="199">Newport Boulevard/</text>
<text class="lb" x="86" y="214">Industrial Way</text>
</g>
</svg>
